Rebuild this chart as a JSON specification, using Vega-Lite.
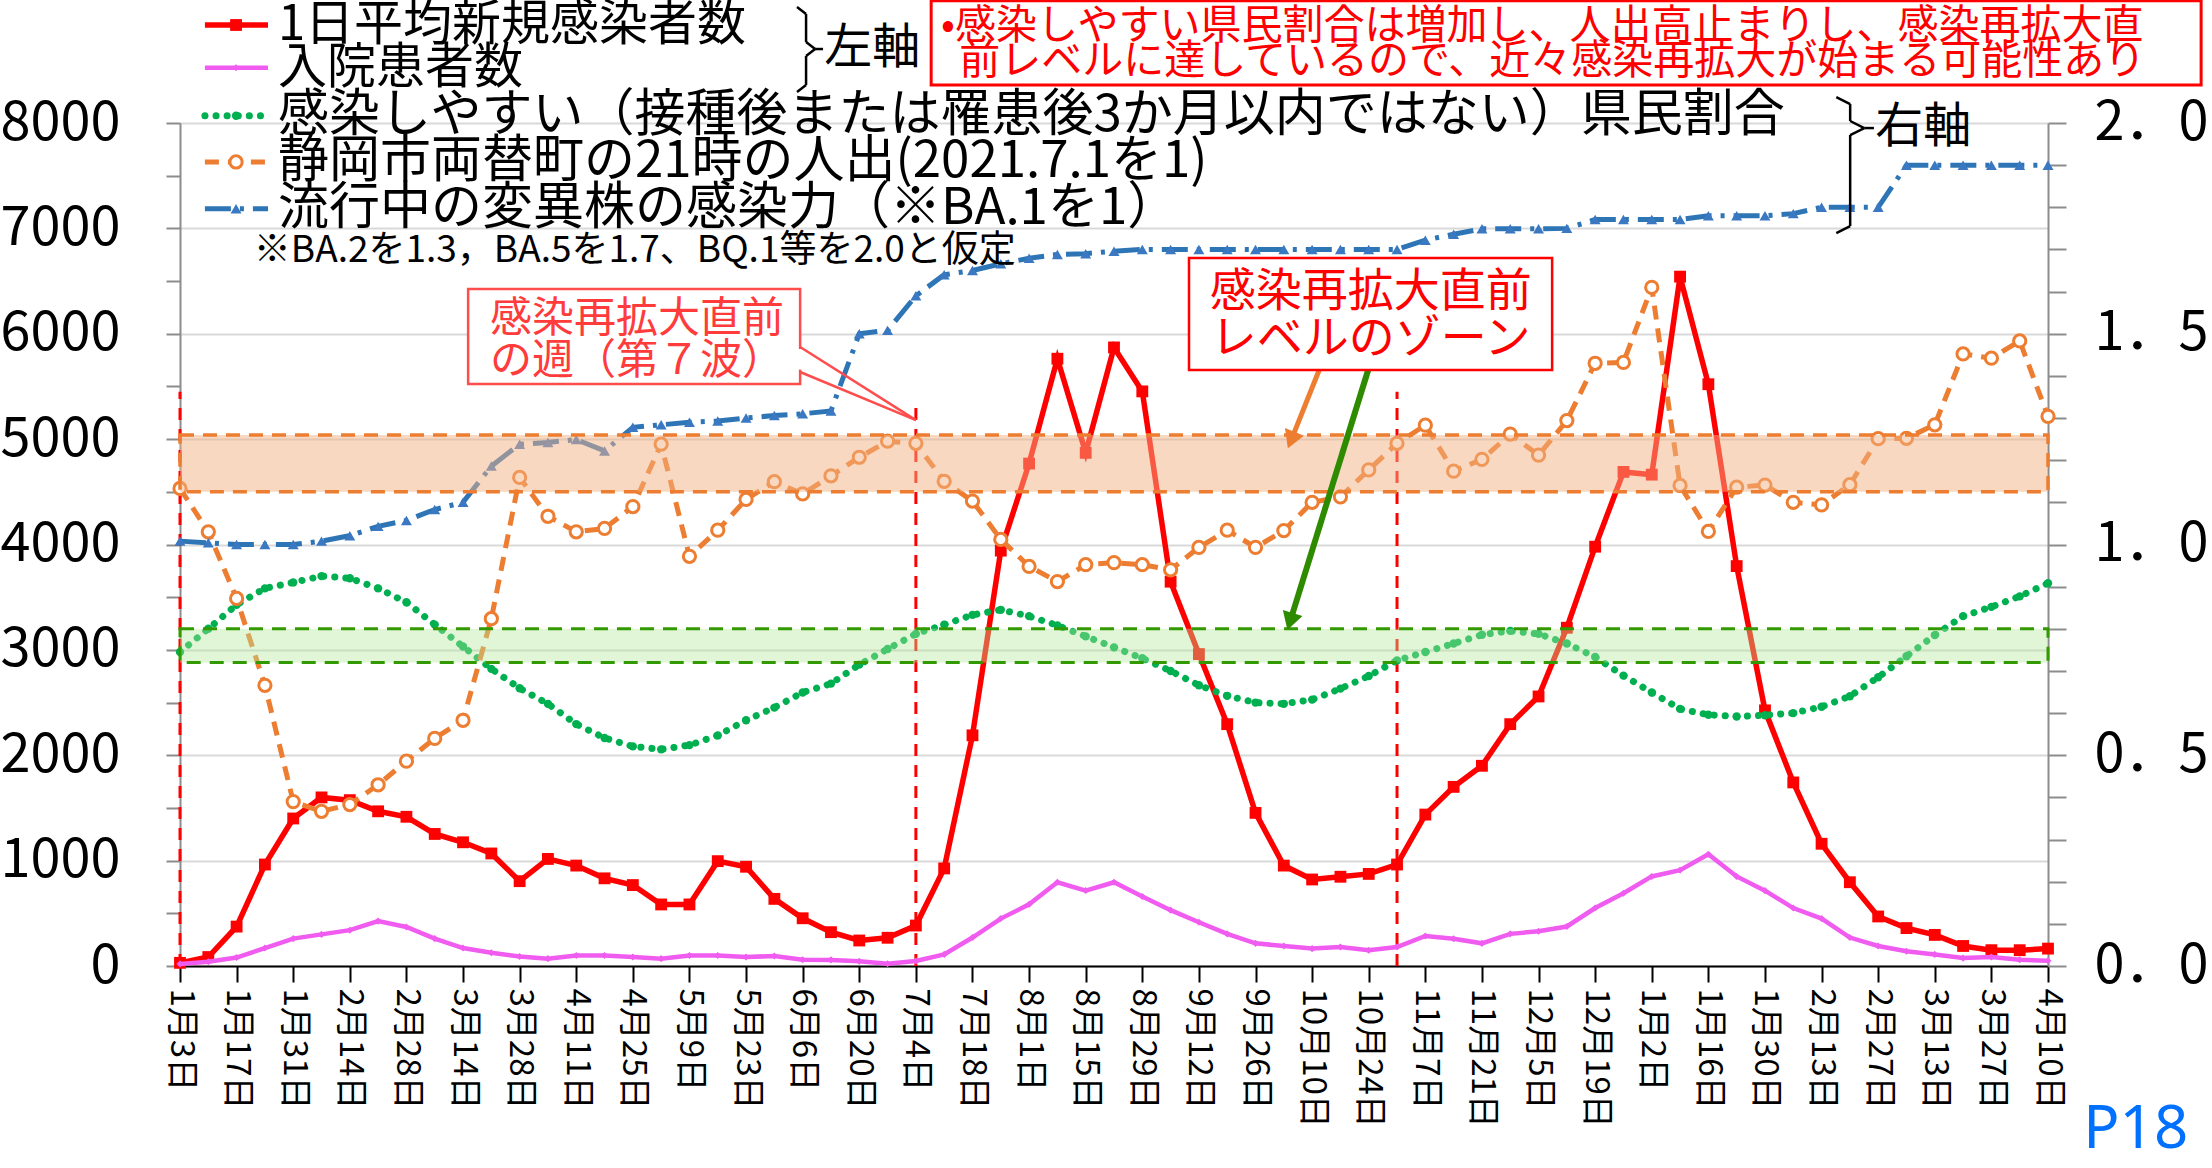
{
  "$schema": "https://vega.github.io/schema/vega-lite/v6.json",
  "width": 1868,
  "height": 843,
  "autosize": {"type": "none"},
  "padding": {"left": 180, "top": 123, "right": 164, "bottom": 202},
  "background": "white",
  "config": {"view": {"stroke": null}, "font": "Noto Sans CJK JP", "axis": {"labelFont": "Noto Sans CJK JP"}},
  "data": {"values": [
    {"date":"2022-01-03","w":0,"cases":30,"hosp":20,"susc":0.745,"flow":1.133,"inf":1.008},
    {"date":"2022-01-10","w":1,"cases":85,"hosp":40,"susc":0.80,"flow":1.03,"inf":1.004},
    {"date":"2022-01-17","w":2,"cases":374,"hosp":80,"susc":0.857,"flow":0.872,"inf":1.0},
    {"date":"2022-01-24","w":3,"cases":963,"hosp":170,"susc":0.896,"flow":0.666,"inf":1.0},
    {"date":"2022-01-31","w":4,"cases":1400,"hosp":260,"susc":0.91,"flow":0.39,"inf":1.0},
    {"date":"2022-02-07","w":5,"cases":1600,"hosp":300,"susc":0.925,"flow":0.367,"inf":1.008},
    {"date":"2022-02-14","w":6,"cases":1574,"hosp":340,"susc":0.92,"flow":0.383,"inf":1.021},
    {"date":"2022-02-21","w":7,"cases":1468,"hosp":426,"susc":0.896,"flow":0.43,"inf":1.043},
    {"date":"2022-02-28","w":8,"cases":1416,"hosp":370,"susc":0.863,"flow":0.486,"inf":1.057},
    {"date":"2022-03-07","w":9,"cases":1253,"hosp":260,"susc":0.81,"flow":0.54,"inf":1.083},
    {"date":"2022-03-14","w":10,"cases":1174,"hosp":170,"susc":0.758,"flow":0.583,"inf":1.10},
    {"date":"2022-03-21","w":11,"cases":1068,"hosp":125,"susc":0.705,"flow":0.824,"inf":1.186},
    {"date":"2022-03-28","w":12,"cases":805,"hosp":90,"susc":0.659,"flow":1.159,"inf":1.238},
    {"date":"2022-04-04","w":13,"cases":1016,"hosp":70,"susc":0.622,"flow":1.067,"inf":1.242},
    {"date":"2022-04-11","w":14,"cases":953,"hosp":100,"susc":0.574,"flow":1.03,"inf":1.249},
    {"date":"2022-04-18","w":15,"cases":832,"hosp":100,"susc":0.541,"flow":1.038,"inf":1.222},
    {"date":"2022-04-25","w":16,"cases":768,"hosp":85,"susc":0.521,"flow":1.09,"inf":1.278},
    {"date":"2022-05-02","w":17,"cases":584,"hosp":70,"susc":0.514,"flow":1.238,"inf":1.284},
    {"date":"2022-05-09","w":18,"cases":584,"hosp":100,"susc":0.524,"flow":0.972,"inf":1.29},
    {"date":"2022-05-16","w":19,"cases":995,"hosp":100,"susc":0.547,"flow":1.034,"inf":1.293},
    {"date":"2022-05-23","w":20,"cases":942,"hosp":85,"susc":0.583,"flow":1.107,"inf":1.30},
    {"date":"2022-05-30","w":21,"cases":637,"hosp":95,"susc":0.613,"flow":1.149,"inf":1.306},
    {"date":"2022-06-06","w":22,"cases":453,"hosp":60,"susc":0.649,"flow":1.12,"inf":1.31},
    {"date":"2022-06-13","w":23,"cases":321,"hosp":58,"susc":0.67,"flow":1.163,"inf":1.317},
    {"date":"2022-06-20","w":24,"cases":242,"hosp":45,"susc":0.715,"flow":1.207,"inf":1.50},
    {"date":"2022-06-27","w":25,"cases":268,"hosp":22,"susc":0.752,"flow":1.245,"inf":1.508},
    {"date":"2022-07-04","w":26,"cases":384,"hosp":47,"susc":0.788,"flow":1.24,"inf":1.59},
    {"date":"2022-07-11","w":27,"cases":926,"hosp":110,"susc":0.81,"flow":1.15,"inf":1.64},
    {"date":"2022-07-18","w":28,"cases":2189,"hosp":270,"susc":0.833,"flow":1.103,"inf":1.65},
    {"date":"2022-07-25","w":29,"cases":3942,"hosp":450,"susc":0.845,"flow":1.012,"inf":1.666},
    {"date":"2022-08-01","w":30,"cases":4768,"hosp":585,"susc":0.83,"flow":0.948,"inf":1.679},
    {"date":"2022-08-08","w":31,"cases":5763,"hosp":795,"susc":0.808,"flow":0.912,"inf":1.688},
    {"date":"2022-08-15","w":32,"cases":4870,"hosp":716,"susc":0.782,"flow":0.952,"inf":1.69},
    {"date":"2022-08-22","w":33,"cases":5870,"hosp":795,"susc":0.756,"flow":0.957,"inf":1.696},
    {"date":"2022-08-29","w":34,"cases":5453,"hosp":660,"susc":0.73,"flow":0.952,"inf":1.70},
    {"date":"2022-09-05","w":35,"cases":3647,"hosp":530,"susc":0.70,"flow":0.94,"inf":1.70},
    {"date":"2022-09-12","w":36,"cases":2960,"hosp":415,"susc":0.666,"flow":0.993,"inf":1.70},
    {"date":"2022-09-19","w":37,"cases":2295,"hosp":305,"susc":0.641,"flow":1.034,"inf":1.70},
    {"date":"2022-09-26","w":38,"cases":1453,"hosp":215,"susc":0.625,"flow":0.993,"inf":1.70},
    {"date":"2022-10-03","w":39,"cases":953,"hosp":190,"susc":0.622,"flow":1.033,"inf":1.70},
    {"date":"2022-10-10","w":40,"cases":821,"hosp":165,"susc":0.632,"flow":1.10,"inf":1.70},
    {"date":"2022-10-17","w":41,"cases":847,"hosp":180,"susc":0.658,"flow":1.113,"inf":1.70},
    {"date":"2022-10-24","w":42,"cases":874,"hosp":150,"susc":0.688,"flow":1.177,"inf":1.70},
    {"date":"2022-10-31","w":43,"cases":963,"hosp":180,"susc":0.725,"flow":1.24,"inf":1.70},
    {"date":"2022-11-07","w":44,"cases":1437,"hosp":285,"susc":0.745,"flow":1.283,"inf":1.722},
    {"date":"2022-11-14","w":45,"cases":1700,"hosp":258,"susc":0.765,"flow":1.174,"inf":1.736},
    {"date":"2022-11-21","w":46,"cases":1900,"hosp":215,"susc":0.786,"flow":1.202,"inf":1.749},
    {"date":"2022-11-28","w":47,"cases":2295,"hosp":305,"susc":0.795,"flow":1.262,"inf":1.749},
    {"date":"2022-12-05","w":48,"cases":2558,"hosp":330,"susc":0.788,"flow":1.212,"inf":1.749},
    {"date":"2022-12-12","w":49,"cases":3210,"hosp":375,"susc":0.765,"flow":1.294,"inf":1.75},
    {"date":"2022-12-19","w":50,"cases":3979,"hosp":550,"susc":0.733,"flow":1.43,"inf":1.771},
    {"date":"2022-12-26","w":51,"cases":4689,"hosp":690,"susc":0.689,"flow":1.432,"inf":1.771},
    {"date":"2023-01-02","w":52,"cases":4663,"hosp":850,"susc":0.649,"flow":1.61,"inf":1.771},
    {"date":"2023-01-09","w":53,"cases":6542,"hosp":910,"susc":0.61,"flow":1.14,"inf":1.771},
    {"date":"2023-01-16","w":54,"cases":5521,"hosp":1060,"susc":0.596,"flow":1.031,"inf":1.78},
    {"date":"2023-01-23","w":55,"cases":3795,"hosp":850,"susc":0.592,"flow":1.136,"inf":1.78},
    {"date":"2023-01-30","w":56,"cases":2426,"hosp":715,"susc":0.595,"flow":1.141,"inf":1.78},
    {"date":"2023-02-06","w":57,"cases":1742,"hosp":550,"susc":0.60,"flow":1.10,"inf":1.785},
    {"date":"2023-02-13","w":58,"cases":1160,"hosp":450,"susc":0.615,"flow":1.094,"inf":1.80},
    {"date":"2023-02-20","w":59,"cases":795,"hosp":270,"susc":0.64,"flow":1.142,"inf":1.80},
    {"date":"2023-02-27","w":60,"cases":470,"hosp":190,"susc":0.685,"flow":1.251,"inf":1.80},
    {"date":"2023-03-06","w":61,"cases":360,"hosp":140,"susc":0.735,"flow":1.252,"inf":1.90},
    {"date":"2023-03-13","w":62,"cases":295,"hosp":110,"susc":0.785,"flow":1.284,"inf":1.90},
    {"date":"2023-03-20","w":63,"cases":190,"hosp":75,"susc":0.83,"flow":1.452,"inf":1.90},
    {"date":"2023-03-27","w":64,"cases":150,"hosp":85,"susc":0.852,"flow":1.442,"inf":1.90},
    {"date":"2023-04-03","w":65,"cases":150,"hosp":60,"susc":0.877,"flow":1.483,"inf":1.90},
    {"date":"2023-04-10","w":66,"cases":165,"hosp":50,"susc":0.908,"flow":1.304,"inf":1.90}
  ]},
  "layer": [
    {
      "layer": [
        {"data": {"values": [{}]}, "mark": {"type": "rule", "color": "#ff0000", "strokeWidth": 3, "strokeDash": [12, 9]},
         "encoding": {"x": {"datum": 0}, "y": {"datum": 0}, "y2": {"datum": 5450}}},
        {"data": {"values": [{}]}, "mark": {"type": "rule", "color": "#ff0000", "strokeWidth": 3, "strokeDash": [12, 9]},
         "encoding": {"x": {"datum": 26}, "y": {"datum": 0}, "y2": {"datum": 5300}}},
        {"data": {"values": [{}]}, "mark": {"type": "rule", "color": "#ff0000", "strokeWidth": 3, "strokeDash": [12, 9]},
         "encoding": {"x": {"datum": 43}, "y": {"datum": 0}, "y2": {"datum": 5450}}},
        {"mark": {"type": "line", "color": "#ff0000", "strokeWidth": 5.5},
         "encoding": {
           "x": {"field": "w", "type": "quantitative", "title": null, "scale": {"domain": [0, 66], "nice": false, "zero": false},
             "axis": {"orient": "bottom", "title": null, "grid": false,
               "values": [0,1,2,3,4,5,6,7,8,9,10,11,12,13,14,15,16,17,18,19,20,21,22,23,24,25,26,27,28,29,30,31,32,33,34,35,36,37,38,39,40,41,42,43,44,45,46,47,48,49,50,51,52,53,54,55,56,57,58,59,60,61,62,63,64,65,66],
               "domainColor": "#000000", "domainWidth": 2, "tickColor": "#000000", "tickWidth": 2,
               "tickSize": {"condition": {"test": "datum.value % 2 == 0", "value": 16}, "value": 10},
               "labelExpr": "datum.value % 2 == 0 ? timeFormat(datetime(2022, 0, 3 + 7 * datum.value), '%-m月%-d日') : ''",
               "labelAngle": 90, "labelAlign": "left", "labelBaseline": "middle", "labelFontSize": 33, "labelColor": "#000000",
               "labelPadding": 6, "labelOverlap": false, "labelFlush": false, "labelBound": false}},
           "y": {"field": "cases", "type": "quantitative", "title": null, "scale": {"domain": [0, 8000], "nice": false, "zero": false},
             "axis": {"orient": "left", "title": null,
               "values": [0,500,1000,1500,2000,2500,3000,3500,4000,4500,5000,5500,6000,6500,7000,7500,8000],
               "labelExpr": "datum.value % 1000 == 0 ? format(datum.value, 'd') : ''",
               "grid": true, "gridColor": "#d9d9d9", "gridWidth": 2,
               "gridOpacity": {"condition": {"test": "datum.value % 1000 == 0", "value": 1}, "value": 0},
               "domainColor": "#8c8c8c", "domainWidth": 2, "tickColor": "#8c8c8c", "tickWidth": 2, "tickSize": 14,
               "labelFontSize": 54, "labelColor": "#000000", "labelPadding": 46, "labelOverlap": false, "labelFlush": false, "labelBound": false}}
         }},
        {"mark": {"type": "point", "shape": "square", "filled": true, "size": 140, "color": "#ff0000", "opacity": 1},
         "encoding": {"x": {"field": "w", "type": "quantitative", "title": null}, "y": {"field": "cases", "type": "quantitative", "title": null}}},
        {"mark": {"type": "line", "color": "#f05cf0", "strokeWidth": 4.5},
         "encoding": {"x": {"field": "w", "type": "quantitative", "title": null}, "y": {"field": "hosp", "type": "quantitative", "title": null}}},
        {"mark": {"type": "point", "shape": "diamond", "filled": true, "size": 50, "color": "#f05cf0", "opacity": 1},
         "encoding": {"x": {"field": "w", "type": "quantitative", "title": null}, "y": {"field": "hosp", "type": "quantitative", "title": null}}}
      ]
    },
    {
      "layer": [
        {"mark": {"type": "line", "color": "#00b050", "strokeWidth": 7, "strokeCap": "round", "strokeDash": [0.1, 11]},
         "encoding": {
           "x": {"field": "w", "type": "quantitative", "title": null},
           "y": {"field": "susc", "type": "quantitative", "title": null, "scale": {"domain": [0, 2], "nice": false, "zero": false},
             "axis": {"orient": "right", "title": null,
               "values": [0,0.1,0.2,0.3,0.4,0.5,0.6,0.7,0.8,0.9,1,1.1,1.2,1.3,1.4,1.5,1.6,1.7,1.8,1.9,2],
               "labelExpr": "abs(datum.value * 2 - round(datum.value * 2)) < 0.001 ? replace(format(datum.value, '.1f'), '.', '．') : ''",
               "grid": false, "domainColor": "#8c8c8c", "domainWidth": 2, "tickColor": "#8c8c8c", "tickWidth": 2, "tickSize": 18,
               "labelFontSize": 54, "labelColor": "#000000", "labelPadding": 28, "labelOverlap": false, "labelFlush": false, "labelBound": false}}
         }},
        {"mark": {"type": "point", "shape": "circle", "filled": true, "size": 70, "color": "#00b050", "opacity": 1},
         "encoding": {"x": {"field": "w", "type": "quantitative", "title": null}, "y": {"field": "susc", "type": "quantitative", "title": null}}},
        {"mark": {"type": "line", "color": "#ed7d31", "strokeWidth": 5, "strokeDash": [14, 9]},
         "encoding": {"x": {"field": "w", "type": "quantitative", "title": null}, "y": {"field": "flow", "type": "quantitative", "title": null}}},
        {"mark": {"type": "point", "shape": "circle", "filled": true, "fill": "#ffffff", "stroke": "#ed7d31", "strokeWidth": 3, "size": 150, "opacity": 1},
         "encoding": {"x": {"field": "w", "type": "quantitative", "title": null}, "y": {"field": "flow", "type": "quantitative", "title": null}}},
        {"mark": {"type": "line", "color": "#2e75b6", "strokeWidth": 5, "strokeDash": [26, 9, 4, 9]},
         "encoding": {"x": {"field": "w", "type": "quantitative", "title": null}, "y": {"field": "inf", "type": "quantitative", "title": null}}},
        {"mark": {"type": "point", "shape": "triangle-up", "filled": true, "size": 120, "color": "#3a78c2", "opacity": 1},
         "encoding": {"x": {"field": "w", "type": "quantitative", "title": null}, "y": {"field": "inf", "type": "quantitative", "title": null}}},
        {"data": {"values": [{}]}, "mark": {"type": "rect", "fill": "#f4b183", "fillOpacity": 0.5, "stroke": "#ed7d31", "strokeWidth": 3.5, "strokeDash": [14, 9]},
         "encoding": {"x": {"datum": 0}, "x2": {"datum": 66}, "y": {"datum": 1.125}, "y2": {"datum": 1.26}}},
        {"data": {"values": [{}]}, "mark": {"type": "rect", "fill": "#b5e89a", "fillOpacity": 0.4, "stroke": "#339900", "strokeWidth": 3, "strokeDash": [14, 9]},
         "encoding": {"x": {"datum": 0}, "x2": {"datum": 66}, "y": {"datum": 0.72}, "y2": {"datum": 0.80}}}
      ]
    },
    {
      "data": {"values": [{}]},
      "layer": [
        {"mark": {"type": "rect", "fill": "#ffffff", "stroke": "#ff0000", "strokeWidth": 3},
         "encoding": {"x": {"datum": 26.54}, "x2": {"datum": 71.41}, "y": {"datum": 8361, "type": "quantitative", "scale": {"domain": [0, 8000], "nice": false, "zero": false}, "axis": null}, "y2": {"datum": 9160}}},
        {"mark": {"type": "text", "text": "•感染しやすい県民割合は増加し、人出高止まりし、感染再拡大直", "align": "left", "baseline": "middle", "fontSize": 41, "color": "#ff0000"},
         "encoding": {"x": {"datum": 26.89}, "y": {"datum": 8915, "axis": null}}},
        {"mark": {"type": "text", "text": "前レベルに達しているので、近々感染再拡大が始まる可能性あり", "align": "left", "baseline": "middle", "fontSize": 41, "color": "#ff0000"},
         "encoding": {"x": {"datum": 27.53}, "y": {"datum": 8575, "axis": null}}},

        {"mark": {"type": "rect", "fill": "#ffffff", "stroke": "#ff4d4d", "strokeWidth": 2.5},
         "encoding": {"x": {"datum": 10.18}, "x2": {"datum": 21.91}, "y": {"datum": 5523, "axis": null}, "y2": {"datum": 6424}}},
        {"mark": {"type": "rule", "color": "#ffffff", "strokeWidth": 5},
         "encoding": {"x": {"datum": 21.91}, "y": {"datum": 5660, "axis": null}, "y2": {"datum": 5855}}},
        {"mark": {"type": "rule", "color": "#ff4d4d", "strokeWidth": 2.5},
         "encoding": {"x": {"datum": 21.91}, "x2": {"datum": 26}, "y": {"datum": 5874, "axis": null}, "y2": {"datum": 5180}}},
        {"mark": {"type": "rule", "color": "#ff4d4d", "strokeWidth": 2.5},
         "encoding": {"x": {"datum": 21.91}, "x2": {"datum": 26}, "y": {"datum": 5637, "axis": null}, "y2": {"datum": 5180}}},
        {"mark": {"type": "text", "text": "感染再拡大直前", "align": "left", "baseline": "middle", "fontSize": 42, "color": "#ff3b3b"},
         "encoding": {"x": {"datum": 10.95}, "y": {"datum": 6140, "axis": null}}},
        {"mark": {"type": "text", "text": "の週（第７波）", "align": "left", "baseline": "middle", "fontSize": 42, "color": "#ff3b3b"},
         "encoding": {"x": {"datum": 10.95}, "y": {"datum": 5741, "axis": null}}},

        {"mark": {"type": "rule", "color": "#ed7d31", "strokeWidth": 5},
         "encoding": {"x": {"datum": 40.25}, "x2": {"datum": 39.26}, "y": {"datum": 5656, "axis": null}, "y2": {"datum": 4991}}},
        {"mark": {"type": "point", "shape": "triangle-down", "filled": true, "size": 420, "angle": 22, "color": "#ed7d31", "opacity": 1},
         "encoding": {"x": {"datum": 39.26}, "y": {"datum": 4991, "axis": null}}},
        {"mark": {"type": "rule", "color": "#2e8b00", "strokeWidth": 6},
         "encoding": {"x": {"datum": 41.98}, "x2": {"datum": 39.22}, "y": {"datum": 5656, "axis": null}, "y2": {"datum": 3269}}},
        {"mark": {"type": "point", "shape": "triangle-down", "filled": true, "size": 420, "angle": 17, "color": "#2e8b00", "opacity": 1},
         "encoding": {"x": {"datum": 39.22}, "y": {"datum": 3269, "axis": null}}},

        {"mark": {"type": "rect", "fill": "#ffffff", "stroke": "#ff0000", "strokeWidth": 2.5},
         "encoding": {"x": {"datum": 35.65}, "x2": {"datum": 48.48}, "y": {"datum": 5656, "axis": null}, "y2": {"datum": 6719}}},
        {"mark": {"type": "text", "text": "感染再拡大直前", "align": "center", "baseline": "middle", "fontSize": 46, "color": "#ff0000"},
         "encoding": {"x": {"datum": 42.07}, "y": {"datum": 6396, "axis": null}}},
        {"mark": {"type": "text", "text": "レベルのゾーン", "align": "center", "baseline": "middle", "fontSize": 46, "color": "#ff0000"},
         "encoding": {"x": {"datum": 42.07}, "y": {"datum": 5950, "axis": null}}},

        {"mark": {"type": "rule", "color": "#ff0000", "strokeWidth": 5.5},
         "encoding": {"x": {"datum": 0.88}, "x2": {"datum": 3.11}, "y": {"datum": 8930, "axis": null}}},
        {"mark": {"type": "point", "shape": "square", "filled": true, "size": 140, "color": "#ff0000", "opacity": 1},
         "encoding": {"x": {"datum": 1.98}, "y": {"datum": 8930, "axis": null}}},
        {"mark": {"type": "text", "text": "1日平均新規感染者数", "align": "left", "baseline": "middle", "fontSize": 49, "color": "#000000"},
         "encoding": {"x": {"datum": 3.46}, "y": {"datum": 8930, "axis": null}}},

        {"mark": {"type": "rule", "color": "#f05cf0", "strokeWidth": 4.5},
         "encoding": {"x": {"datum": 0.88}, "x2": {"datum": 3.11}, "y": {"datum": 8524, "axis": null}}},
        {"mark": {"type": "point", "shape": "diamond", "filled": true, "size": 50, "color": "#f05cf0", "opacity": 1},
         "encoding": {"x": {"datum": 1.98}, "y": {"datum": 8524, "axis": null}}},
        {"mark": {"type": "text", "text": "入院患者数", "align": "left", "baseline": "middle", "fontSize": 49, "color": "#000000"},
         "encoding": {"x": {"datum": 3.46}, "y": {"datum": 8524, "axis": null}}},

        {"mark": {"type": "rule", "color": "#00b050", "strokeWidth": 7, "strokeCap": "round", "strokeDash": [0.1, 11]},
         "encoding": {"x": {"datum": 0.88}, "x2": {"datum": 3.11}, "y": {"datum": 8069, "axis": null}}},
        {"mark": {"type": "point", "shape": "circle", "filled": true, "size": 70, "color": "#00b050", "opacity": 1},
         "encoding": {"x": {"datum": 1.98}, "y": {"datum": 8069, "axis": null}}},
        {"mark": {"type": "text", "text": "感染しやすい（接種後または罹患後3か月以内ではない）県民割合", "align": "left", "baseline": "middle", "fontSize": 51, "color": "#000000"},
         "encoding": {"x": {"datum": 3.46}, "y": {"datum": 8069, "axis": null}}},

        {"mark": {"type": "rule", "color": "#ed7d31", "strokeWidth": 5, "strokeDash": [14, 9]},
         "encoding": {"x": {"datum": 0.88}, "x2": {"datum": 3.11}, "y": {"datum": 7630, "axis": null}}},
        {"mark": {"type": "point", "shape": "circle", "filled": true, "fill": "#ffffff", "stroke": "#ed7d31", "strokeWidth": 3, "size": 150, "opacity": 1},
         "encoding": {"x": {"datum": 1.98}, "y": {"datum": 7630, "axis": null}}},
        {"mark": {"type": "text", "text": "静岡市両替町の21時の人出(2021.7.1を1)", "align": "left", "baseline": "middle", "fontSize": 51, "color": "#000000"},
         "encoding": {"x": {"datum": 3.46}, "y": {"datum": 7630, "axis": null}}},

        {"mark": {"type": "rule", "color": "#2e75b6", "strokeWidth": 5, "strokeDash": [26, 9, 4, 9]},
         "encoding": {"x": {"datum": 0.88}, "x2": {"datum": 3.11}, "y": {"datum": 7186, "axis": null}}},
        {"mark": {"type": "point", "shape": "triangle-up", "filled": true, "size": 120, "color": "#3a78c2", "opacity": 1},
         "encoding": {"x": {"datum": 1.98}, "y": {"datum": 7186, "axis": null}}},
        {"mark": {"type": "text", "text": "流行中の変異株の感染力（※BA.1を1）", "align": "left", "baseline": "middle", "fontSize": 51, "color": "#000000"},
         "encoding": {"x": {"datum": 3.46}, "y": {"datum": 7186, "axis": null}}},

        {"mark": {"type": "text", "text": "※BA.2を1.3，BA.5を1.7、BQ.1等を2.0と仮定", "align": "left", "baseline": "middle", "fontSize": 37, "color": "#000000"},
         "encoding": {"x": {"datum": 2.61}, "y": {"datum": 6785, "axis": null}}},

        {"mark": {"type": "rule", "color": "#000000", "strokeWidth": 2.5},
         "encoding": {"x": {"datum": 21.80}, "x2": {"datum": 22.12}, "y": {"datum": 9100, "axis": null}, "y2": {"datum": 9034}}},
        {"mark": {"type": "rule", "color": "#000000", "strokeWidth": 2.5},
         "encoding": {"x": {"datum": 22.12}, "y": {"datum": 9034, "axis": null}, "y2": {"datum": 8768}}},
        {"mark": {"type": "rule", "color": "#000000", "strokeWidth": 2.5},
         "encoding": {"x": {"datum": 22.12}, "x2": {"datum": 22.44}, "y": {"datum": 8768, "axis": null}, "y2": {"datum": 8702}}},
        {"mark": {"type": "rule", "color": "#000000", "strokeWidth": 2.5},
         "encoding": {"x": {"datum": 22.44}, "x2": {"datum": 22.12}, "y": {"datum": 8702, "axis": null}, "y2": {"datum": 8636}}},
        {"mark": {"type": "rule", "color": "#000000", "strokeWidth": 2.5},
         "encoding": {"x": {"datum": 22.12}, "y": {"datum": 8636, "axis": null}, "y2": {"datum": 8360}}},
        {"mark": {"type": "rule", "color": "#000000", "strokeWidth": 2.5},
         "encoding": {"x": {"datum": 22.12}, "x2": {"datum": 21.80}, "y": {"datum": 8360, "axis": null}, "y2": {"datum": 8294}}},
        {"mark": {"type": "rule", "color": "#000000", "strokeWidth": 2.5},
         "encoding": {"x": {"datum": 22.44}, "x2": {"datum": 22.72}, "y": {"datum": 8702, "axis": null}}},
        {"mark": {"type": "text", "text": "左軸", "align": "left", "baseline": "middle", "fontSize": 48, "color": "#000000"},
         "encoding": {"x": {"datum": 22.76}, "y": {"datum": 8702, "axis": null}}},

        {"mark": {"type": "rule", "color": "#000000", "strokeWidth": 2.5},
         "encoding": {"x": {"datum": 58.52}, "x2": {"datum": 59.01}, "y": {"datum": 8246, "axis": null}, "y2": {"datum": 8180}}},
        {"mark": {"type": "rule", "color": "#000000", "strokeWidth": 2.5},
         "encoding": {"x": {"datum": 59.01}, "y": {"datum": 8180, "axis": null}, "y2": {"datum": 8019}}},
        {"mark": {"type": "rule", "color": "#000000", "strokeWidth": 2.5},
         "encoding": {"x": {"datum": 59.01}, "x2": {"datum": 59.51}, "y": {"datum": 8019, "axis": null}, "y2": {"datum": 7952}}},
        {"mark": {"type": "rule", "color": "#000000", "strokeWidth": 2.5},
         "encoding": {"x": {"datum": 59.51}, "x2": {"datum": 59.01}, "y": {"datum": 7952, "axis": null}, "y2": {"datum": 7886}}},
        {"mark": {"type": "rule", "color": "#000000", "strokeWidth": 2.5},
         "encoding": {"x": {"datum": 59.01}, "y": {"datum": 7886, "axis": null}, "y2": {"datum": 7022}}},
        {"mark": {"type": "rule", "color": "#000000", "strokeWidth": 2.5},
         "encoding": {"x": {"datum": 59.01}, "x2": {"datum": 58.52}, "y": {"datum": 7022, "axis": null}, "y2": {"datum": 6956}}},
        {"mark": {"type": "rule", "color": "#000000", "strokeWidth": 2.5},
         "encoding": {"x": {"datum": 59.51}, "x2": {"datum": 59.85}, "y": {"datum": 7952, "axis": null}}},
        {"mark": {"type": "text", "text": "右軸", "align": "left", "baseline": "middle", "fontSize": 48, "color": "#000000"},
         "encoding": {"x": {"datum": 59.9}, "y": {"datum": 7952, "axis": null}}},

        {"mark": {"type": "text", "text": "P18", "align": "center", "baseline": "middle", "fontSize": 60, "font": "Noto Sans", "color": "#0070ff"},
         "encoding": {"x": {"datum": 69.1}, "y": {"datum": -1560, "axis": null}}}
      ]
    }
  ],
  "resolve": {"scale": {"y": "independent"}}
}
